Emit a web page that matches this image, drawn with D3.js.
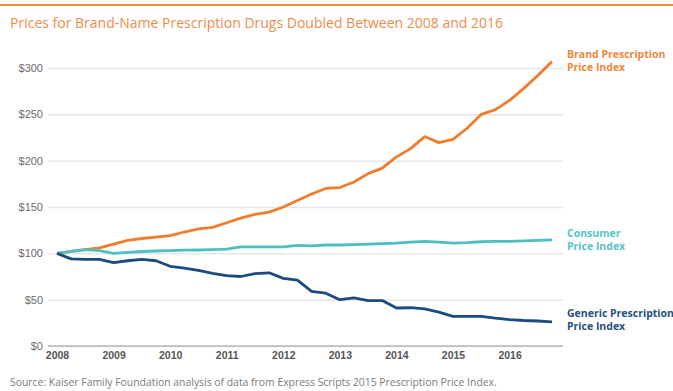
<!DOCTYPE html>
<html lang="en">
<head>
<meta charset="utf-8">
<title>Prices for Brand-Name Prescription Drugs</title>
<script src="https://d3js.org/d3.v7.min.js"></script>
<style>
  body { margin: 0; background: #fff; }
  svg { display: block; font-family: "Open Sans", "Noto Sans", sans-serif; }
</style>
</head>
<body>
<script>
// quarterly index values, 2008 Q1 = 100
var quarters = d3.range(36).map(function(i) { return 2008 + i / 4; });
var brand = [100, 102, 104, 106, 110, 114, 116, 117.5, 119, 123, 126.5, 128,
             133, 138, 142, 144.5, 150, 157, 164, 170, 171, 177, 186, 192,
             204, 213, 226, 219.5, 223, 235, 250, 255, 265, 278, 292, 307];
var consumer = [100, 102, 104, 103, 100, 101, 102, 102.5, 103, 103.5, 103.6, 104,
                104.5, 107, 107, 107, 107, 108.5, 108, 109, 109, 109.5, 110, 110.5,
                111, 112, 113, 112, 111, 111.5, 112.5, 113, 113, 113.5, 114, 114.5];
var generic = [100, 94, 93.5, 93.5, 90, 92, 93.5, 92, 86, 84, 81.5, 78.5,
               76, 75, 78, 79, 73, 71, 59, 57, 50, 52, 49, 49,
               41, 41.3, 40, 36.5, 32, 32, 32, 30, 28.5, 27.5, 27, 26];
var yearTicks = [2008, 2009, 2010, 2011, 2012, 2013, 2014, 2015, 2016];
var dollarTicks = [0, 50, 100, 150, 200, 250, 300];

var series = [
  { name: ["Brand Prescription", "Price Index"], values: brand, color: "#f07d2c", text: "#f0873a", dy: -4 },
  { name: ["Consumer", "Price Index"], values: consumer, color: "#4cc0bf", text: "#55c3c3", dy: -3 },
  { name: ["Generic Prescription", "Price Index"], values: generic, color: "#1c4b7e", text: "#28507d", dy: -5 }
];

var w = 673, h = 391;
var svg = d3.select("body").append("svg").attr("width", w).attr("height", h);

// orange rule at top
svg.append("rect").attr("x", 0).attr("y", 4).attr("width", w).attr("height", 2).attr("fill", "#f08a3c");

svg.append("text")
  .attr("x", 10).attr("y", 28)
  .attr("fill", "#ee8c4a")
  .style("font-size", "14px")
  .text("Prices for Brand-Name Prescription Drugs Doubled Between 2008 and 2016");

var x = d3.scaleLinear().domain([2008, 2016.75]).range([57, 552]);
var y = d3.scaleLinear().domain([0, 300]).range([346, 68]);
var left = 48, right = 563;

// gridlines + y labels
var yAxis = d3.axisLeft(y).tickValues(dollarTicks)
  .tickSize(-(right - left)).tickPadding(5)
  .tickFormat(function(d) { return "$" + d; });
var gy = svg.append("g").attr("transform", "translate(" + left + ",0)").call(yAxis);
gy.select(".domain").remove();
gy.selectAll(".tick line").attr("stroke", "#e6e6e6").attr("stroke-width", 1.5);
gy.selectAll(".tick text").attr("fill", "#6b6b6b").style("font-size", "11px").attr("font-family", null);

// x axis
var xAxis = d3.axisBottom(x).tickValues(yearTicks).tickSize(0).tickPadding(6).tickFormat(d3.format("d"));
var gx = svg.append("g").attr("transform", "translate(0," + y(0) + ")").call(xAxis);
gx.select(".domain").remove();
gx.append("line").attr("x1", left).attr("x2", right).attr("stroke", "#9a9a9a").attr("stroke-width", 1.2);
gx.selectAll(".tick text").attr("fill", "#555").style("font-size", "10.5px").style("font-weight", "600").attr("font-family", null);

var line = d3.line()
  .x(function(d, i) { return x(quarters[i]); })
  .y(function(d) { return y(d); });

series.forEach(function(s) {
  svg.append("path")
    .attr("d", line(s.values))
    .attr("fill", "none")
    .attr("stroke", s.color)
    .attr("stroke-width", 2.8)
    .attr("stroke-linejoin", "round");

  var last = s.values[s.values.length - 1];
  s.name.forEach(function(label, k) {
    svg.append("text")
      .attr("x", 567)
      .attr("y", y(last) + s.dy + k * 13)
      .attr("fill", s.text)
      .style("font-size", "10.5px")
      .style("font-weight", "700")
      .text(label);
  });
});

svg.append("text")
  .attr("x", 10).attr("y", 386)
  .attr("fill", "#7a7a7a")
  .style("font-size", "10.4px")
  .text("Source: Kaiser Family Foundation analysis of data from Express Scripts 2015 Prescription Price Index.");
</script>
</body>
</html>
